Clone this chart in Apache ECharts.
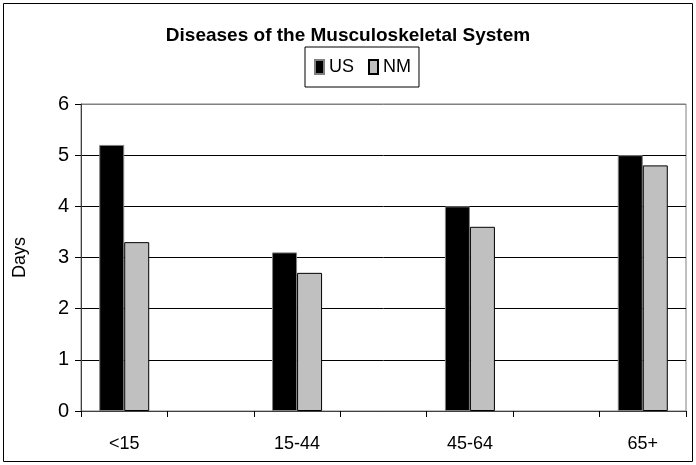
<!doctype html>
<html lang="en">
<head>
    <meta charset="UTF-8">
    <script src="https://cdn.jsdelivr.net/npm/echarts@6/dist/echarts.min.js"></script>
    <title>Diseases of the Musculoskeletal System</title>
    <style>
        html, body { margin: 0; padding: 0; background: #fff; }
    </style>
</head>
<body>
<div id="chart" style="width: 696px;height:465px;"></div>
</body>
<script>
    // blank categories sit between the age groups, like the original sheet
    var categories = ['<15', '', '15-44', '', '45-64', '', '65+'];
    var usDays = [5.2, null, 3.1, null, 4.0, null, 5.0];
    var nmDays = [3.3, null, 2.7, null, 3.6, null, 4.8];
    var yTicks = [0, 1, 2, 3, 4, 5, 6];

    var font = "'Liberation Sans', Arial, sans-serif";
    var myChart = echarts.init(document.getElementById('chart'));

    var option = {
        backgroundColor: '#fff',
        animation: false,
        title: {
            text: 'Diseases of the Musculoskeletal System',
            left: 'center',
            top: 21,
            textStyle: {
                fontFamily: font,
                fontSize: 19,
                fontWeight: 'bold',
                color: '#000'
            }
        },
        legend: {
            data: ['US', 'NM'],
            left: 305,
            top: 47,
            padding: [11, 8, 11, 9],
            borderColor: '#000',
            borderWidth: 1,
            icon: 'rect',
            itemWidth: 9,
            itemHeight: 14,
            itemGap: 14,
            textStyle: {
                fontFamily: font,
                fontSize: 18,
                color: '#000'
            }
        },
        graphic: [{
            type: 'rect',
            shape: {x: 3.5, y: 3.5, width: 689, height: 458},
            style: {fill: 'none', stroke: '#000', lineWidth: 1},
            silent: true
        }],
        grid: {
            left: 81,
            right: 10,
            top: 104,
            bottom: 54,
            show: true,
            borderColor: '#808080',
            borderWidth: 1,
            containLabel: false
        },
        xAxis: {
            type: 'category',
            data: categories,
            axisLine: {lineStyle: {color: '#404040', width: 1}},
            axisTick: {show: true, length: 6, alignWithLabel: false, lineStyle: {color: '#000'}},
            axisLabel: {
                interval: 0,
                margin: 24,
                fontFamily: font,
                fontSize: 18,
                color: '#000'
            }
        },
        yAxis: {
            type: 'value',
            min: yTicks[0],
            max: yTicks[yTicks.length - 1],
            interval: 1,
            name: 'Days',
            nameLocation: 'middle',
            nameGap: 52,
            nameTextStyle: {
                fontFamily: font,
                fontSize: 18,
                color: '#000'
            },
            axisLine: {show: true, lineStyle: {color: '#404040', width: 1}},
            axisTick: {show: true, length: 6, lineStyle: {color: '#000'}},
            axisLabel: {
                margin: 12,
                fontFamily: font,
                fontSize: 20,
                color: '#000'
            },
            splitLine: {
                show: true,
                lineStyle: {
                    color: ['#000', '#000', '#000', '#000', '#000', '#000', '#808080'],
                    width: 1
                }
            }
        },
        series: [
            {
                name: 'US',
                type: 'bar',
                data: usDays,
                barWidth: 25,
                barGap: '0%',
                itemStyle: {color: '#000', borderColor: '#808080', borderWidth: 1}
            },
            {
                name: 'NM',
                type: 'bar',
                data: nmDays,
                barWidth: 25,
                itemStyle: {color: '#c0c0c0', borderColor: '#000', borderWidth: 1}
            }
        ]
    };

    myChart.setOption(option);
</script>
</html>
